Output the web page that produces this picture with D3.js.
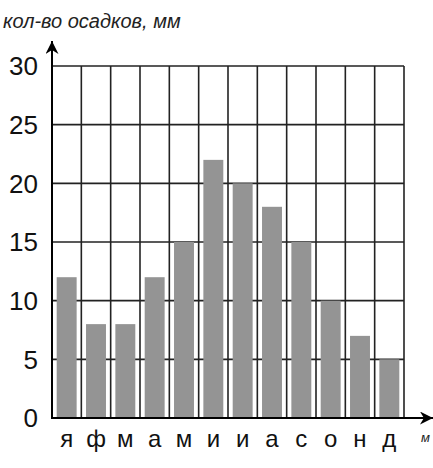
<!DOCTYPE html>
<html>
<head>
<meta charset="utf-8">
<script src="https://cdn.jsdelivr.net/npm/d3@7"></script>
<style>
html,body{margin:0;padding:0;background:#fff;}
svg{display:block;}
</style>
</head>
<body>
<svg id="chart" width="433" height="468"></svg>
<script>
const months = ["я","ф","м","а","м","и","и","а","с","о","н","д"];
const precipitation = [12, 8, 8, 12, 15, 22, 20, 18, 15, 10, 7, 5];
const yTicks = [0, 5, 10, 15, 20, 25, 30];
const yTitle = "кол-во осадков, мм";
const xTitle = "м";

const svg = d3.select("#chart");
const pLeft = 52, pRight = 404, pTop = 66, pBottom = 418;

const idx = d3.range(months.length);
const x = d3.scaleBand().domain(idx).range([pLeft, pRight]).paddingInner(0.32).paddingOuter(0.16);
const y = d3.scaleLinear().domain([0, 30]).range([pBottom, pTop]);

const defs = svg.append("defs");
defs.append("marker").attr("id","arr").attr("viewBox","0 0 10 10")
  .attr("refX",10).attr("refY",5).attr("markerWidth",13).attr("markerHeight",13)
  .attr("markerUnits","userSpaceOnUse").attr("orient","auto")
  .append("path").attr("d","M0,0 L10,5 L0,10 L3,5 Z").attr("fill","#000");

const grid = svg.append("g");
grid.selectAll("line.h").data(yTicks.filter(d => d > 0)).join("line")
  .attr("x1", pLeft).attr("x2", pRight)
  .attr("y1", d => y(d)).attr("y2", d => y(d))
  .attr("stroke", "#222").attr("stroke-width", 1.6);
grid.selectAll("line.v").data(d3.range(1, months.length + 1)).join("line")
  .attr("x1", i => pLeft + i * x.step()).attr("x2", i => pLeft + i * x.step())
  .attr("y1", y(30)).attr("y2", y(0))
  .attr("stroke", "#222").attr("stroke-width", 1.6);

svg.append("g").selectAll("rect").data(precipitation).join("rect")
  .attr("x", (d, i) => x(i))
  .attr("width", x.bandwidth())
  .attr("y", d => y(d))
  .attr("height", d => y(0) - y(d))
  .attr("fill", "#949494");

svg.append("line").attr("x1", pLeft).attr("x2", pLeft).attr("y1", pBottom + 1).attr("y2", 41)
  .attr("stroke", "#000").attr("stroke-width", 2).attr("marker-end", "url(#arr)");
svg.append("line").attr("x1", pLeft - 1).attr("x2", 433).attr("y1", pBottom).attr("y2", pBottom)
  .attr("stroke", "#000").attr("stroke-width", 2).attr("marker-end", "url(#arr)");

svg.append("g").selectAll("text").data(yTicks).join("text")
  .attr("x", 38).attr("y", d => y(d))
  .attr("dy", "0.36em")
  .attr("text-anchor", "end")
  .attr("font-family", "Liberation Sans, Arial, sans-serif")
  .attr("font-size", 26)
  .attr("fill", "#111")
  .text(d => d);

svg.append("g").selectAll("text").data(months).join("text")
  .attr("x", (d, i) => x(i) + x.bandwidth() / 2)
  .attr("y", 447)
  .attr("text-anchor", "middle")
  .attr("font-family", "Liberation Sans, Arial, sans-serif")
  .attr("font-size", 24)
  .attr("fill", "#111")
  .text(d => d);

svg.append("text").attr("x", 3).attr("y", 28)
  .attr("font-family", "Liberation Sans, Arial, sans-serif")
  .attr("font-size", 20).attr("font-style", "italic")
  .attr("fill", "#222")
  .text(yTitle);
svg.append("text").attr("x", 421).attr("y", 442)
  .attr("font-family", "Liberation Sans, Arial, sans-serif")
  .attr("font-size", 13).attr("font-style", "italic")
  .attr("fill", "#222")
  .text(xTitle);
</script>
</body>
</html>
